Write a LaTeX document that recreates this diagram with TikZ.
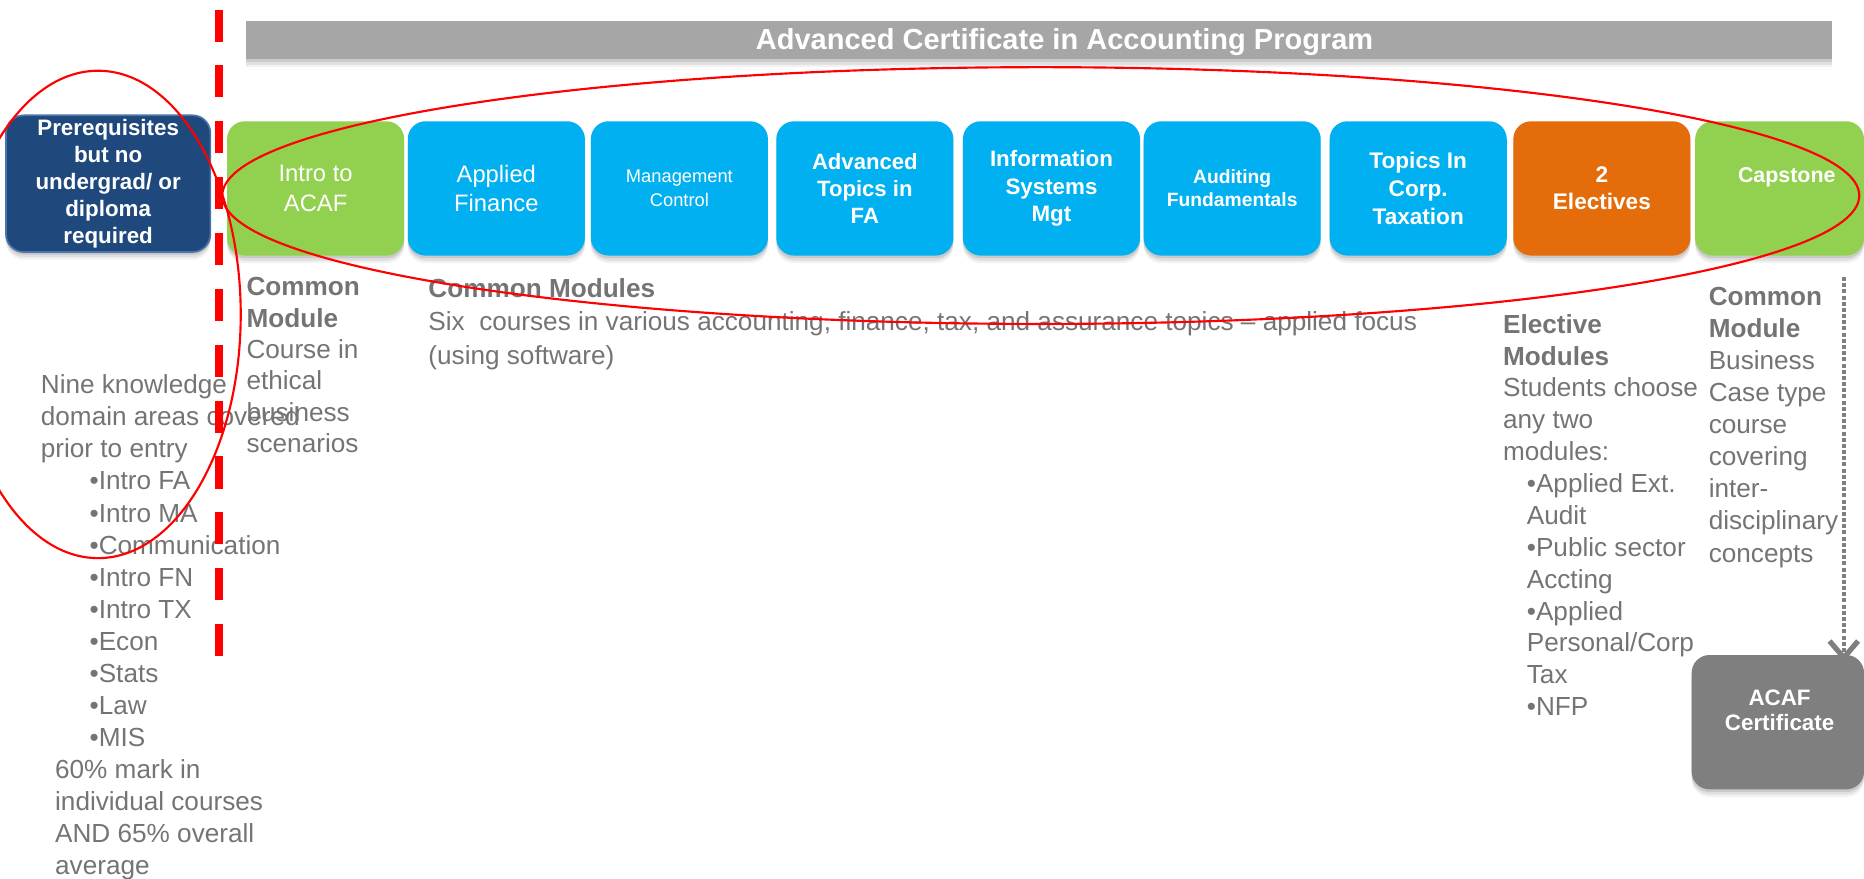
\documentclass[tikz,border=0pt]{standalone}
\usepackage{fontspec}
\setmainfont{Liberation Sans}
\usetikzlibrary{shadows,arrows.meta}
\definecolor{cgreen}{HTML}{92D050}
\definecolor{ccyan}{HTML}{00B0F0}
\definecolor{corange}{HTML}{E46C0A}
\definecolor{cnavy}{HTML}{1F497D}
\definecolor{cnavyline}{HTML}{4A74AA}
\definecolor{cbanner}{HTML}{A6A6A6}
\definecolor{cgraybox}{HTML}{7F7F7F}
\definecolor{ctext}{HTML}{747474}
\tikzset{
  softshadow/.style={
    general shadow={shadow yshift=-1.2pt, fill=black, opacity=0.10},
    general shadow={shadow yshift=-2.2pt, fill=black, opacity=0.07},
    general shadow={shadow yshift=-3.2pt, fill=black, opacity=0.05}},
  modbox/.style={rounded corners=7.5pt, minimum width=74.5pt, minimum height=56.5pt,
    inner sep=0pt, text=white, align=center, softshadow},
  boxlabel/.style={inner sep=0pt, text=white, align=center},
  bodytext/.style={anchor=north west, inner sep=0pt, align=left, text=ctext},
}
\begin{document}
\begin{tikzpicture}[x=0.5pt,y=-0.5pt]
\useasboundingbox (0,0) rectangle (1568,739);
% banner
\node[fill=cbanner, minimum width=667pt, minimum height=16pt, inner sep=0pt, softshadow] (banner) at (874,34) {};
\node[boxlabel, font=\bfseries\fontsize{12.2}{14}\selectfont] (title) at (895.5,35) {Advanced Certificate in Accounting Program};
% prerequisite box
\node[modbox, fill=cnavy, draw=cnavyline, line width=0.7pt, minimum width=86pt, minimum height=57.5pt,
  font=\bfseries\fontsize{9.4}{11.4}\selectfont] (prereq) at (91,154.5)
  {Prerequisites\\but no\\undergrad/ or\\diploma\\required};
% module boxes
\node[modbox, fill=cgreen, font=\fontsize{10}{12.5}\selectfont] (intro) at (265.5,158.5) {Intro to\\ACAF};
\node[modbox, fill=ccyan, font=\fontsize{10}{12.5}\selectfont] (applied) at (417.5,158.5) {Applied\\Finance};
\node[modbox, fill=ccyan, font=\fontsize{7.7}{10}\selectfont] (mgmt) at (571.5,158.5) {Management\\Control};
\node[modbox, fill=ccyan, font=\bfseries\fontsize{9.3}{11.3}\selectfont] (adv) at (727.5,158.5) {Advanced\\Topics in\\FA};
\node[modbox, fill=ccyan, font=\bfseries\fontsize{9.4}{11.5}\selectfont] (info) at (884.5,158.5) {Information\\Systems\\Mgt};
\node[modbox, fill=ccyan, font=\bfseries\fontsize{8.1}{9.6}\selectfont] (audit) at (1036.5,158.5) {Auditing\\Fundamentals};
\node[modbox, fill=ccyan, font=\bfseries\fontsize{9.5}{11.7}\selectfont] (tax) at (1193,158.5) {Topics In\\Corp.\\Taxation};
\node[modbox, fill=corange, font=\bfseries\fontsize{9.5}{11.5}\selectfont] (elect) at (1347.5,158.5) {2\\Electives};
\node[modbox, fill=cgreen, minimum width=71pt] (cap) at (1497,158.5) {};
\node[boxlabel, font=\bfseries\fontsize{9}{11}\selectfont] (captext) at (1503,149) {Capstone};
% certificate box
\node[modbox, fill=cgraybox, minimum width=72.5pt] (acaf) at (1495.5,607.5) {};
\node[boxlabel, font=\bfseries\fontsize{9.4}{10.5}\selectfont] (acaftext) at (1497,597.5) {ACAF\\Certificate};
% texts
\node[bodytext, font=\fontsize{11}{13.2}\selectfont] (ethics) at (207,233)
  {\textbf{Common}\\\textbf{Module}\\Course in\\ethical\\business\\scenarios};
\node[bodytext, font=\fontsize{11}{14}\selectfont] (common) at (360,234)
  {\textbf{Common Modules}\\Six\ \ courses in various accounting, finance, tax, and assurance topics – applied focus\\(using software)};
\node[bodytext, font=\fontsize{11}{13.47}\selectfont] (nine) at (34,315)
  {Nine knowledge\\domain areas covered\\prior to entry\\
   \hspace*{20.5pt}•Intro FA\\\hspace*{20.5pt}•Intro MA\\\hspace*{20.5pt}•Communication\\
   \hspace*{20.5pt}•Intro FN\\\hspace*{20.5pt}•Intro TX\\\hspace*{20.5pt}•Econ\\
   \hspace*{20.5pt}•Stats\\\hspace*{20.5pt}•Law\\\hspace*{20.5pt}•MIS\\
   \hspace*{6pt}60\% mark in\\\hspace*{6pt}individual courses\\\hspace*{6pt}AND 65\% overall\\\hspace*{6pt}average};
\node[bodytext, font=\fontsize{11}{13.4}\selectfont] (elective) at (1264,264)
  {\textbf{Elective}\\\textbf{Modules}\\Students choose\\any two\\modules:\\
   \hspace*{10pt}•Applied Ext.\\\hspace*{10pt}Audit\\\hspace*{10pt}•Public sector\\\hspace*{10pt}Accting\\
   \hspace*{10pt}•Applied\\\hspace*{10pt}Personal/Corp\\\hspace*{10pt}Tax\\\hspace*{10pt}•NFP};
\node[bodytext, font=\fontsize{11}{13.5}\selectfont] (captone) at (1437,241)
  {\textbf{Common}\\\textbf{Module}\\Business\\Case type\\course\\covering\\inter-\\disciplinary\\concepts};
% arrow to certificate
\coordinate (arrtop) at (1551,233);
\draw[cgraybox, line width=1.7pt, dash pattern=on 1.7pt off 0.9pt, shorten >=-3pt,
  -{Straight Barb[length=7pt, width=12pt, line width=2.2pt]}] (arrtop) -- (arrtop |- acaf.north);
% red dashed divider
\coordinate (dtop) at (184,8);
\coordinate (dbot) at (184,552);
\draw[red, line width=3.5pt, dash pattern=on 13.5pt off 10pt] (dtop) -- (dbot);
% red ellipses
\draw[red, line width=0.9pt] (875.5,164.5) ellipse [x radius=688.5, y radius=108];
\draw[red, line width=0.9pt] (82.5,264.5) ellipse [x radius=120, y radius=205];
\end{tikzpicture}
\end{document}
